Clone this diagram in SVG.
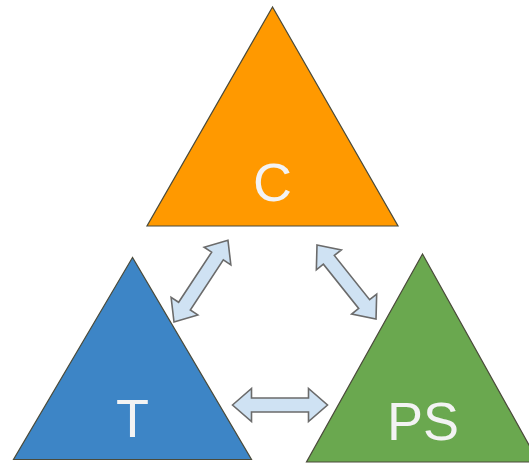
<svg xmlns="http://www.w3.org/2000/svg" width="529" height="463" viewBox="0 0 529 463">
<style>
.tri{stroke:#4a4a3a;stroke-width:1.2;stroke-linejoin:miter}
.lbl{font-family:"Liberation Sans",Arial,sans-serif;font-size:54px;fill:#f3f3f3;text-anchor:middle}
.arr{fill:#cfe2f3;stroke:#6b6b6b;stroke-width:1.6;stroke-linejoin:miter}
</style>
<rect width="529" height="463" fill="#ffffff"/>
<g id="node-C">
<polygon class="tri" points="272.5,7 147,226 398,226" fill="#ff9900"/>
<text class="lbl" x="272.5" y="201">C</text>
</g>
<g id="node-T">
<polygon class="tri" points="132.5,257.5 13.5,459.5 251.5,459.5" fill="#3d85c6"/>
<text class="lbl" x="132.5" y="437">T</text>
</g>
<g id="node-PS">
<polygon class="tri" points="422.5,254 306.5,462 538.5,462" fill="#6aa84f"/>
<text class="lbl" x="423" y="440">PS</text>
</g>
<g id="connectors">
<path class="arr" transform="translate(174,322) rotate(-56.6)" d="M0,0 L19,-16 L19,-7 L79,-7 L79,-16 L98,0 L79,16 L79,7 L19,7 L19,16 Z"/>
<path class="arr" transform="translate(317,245) rotate(51.4)" d="M0,0 L19,-16 L19,-7 L75.6,-7 L75.6,-16 L94.6,0 L75.6,16 L75.6,7 L19,7 L19,16 Z"/>
<path class="arr" transform="translate(232.5,405)" d="M0,0 L19,-16.5 L19,-7 L76,-7 L76,-16.5 L95,0 L76,16.5 L76,7 L19,7 L19,16.5 Z"/>
</g>
</svg>
